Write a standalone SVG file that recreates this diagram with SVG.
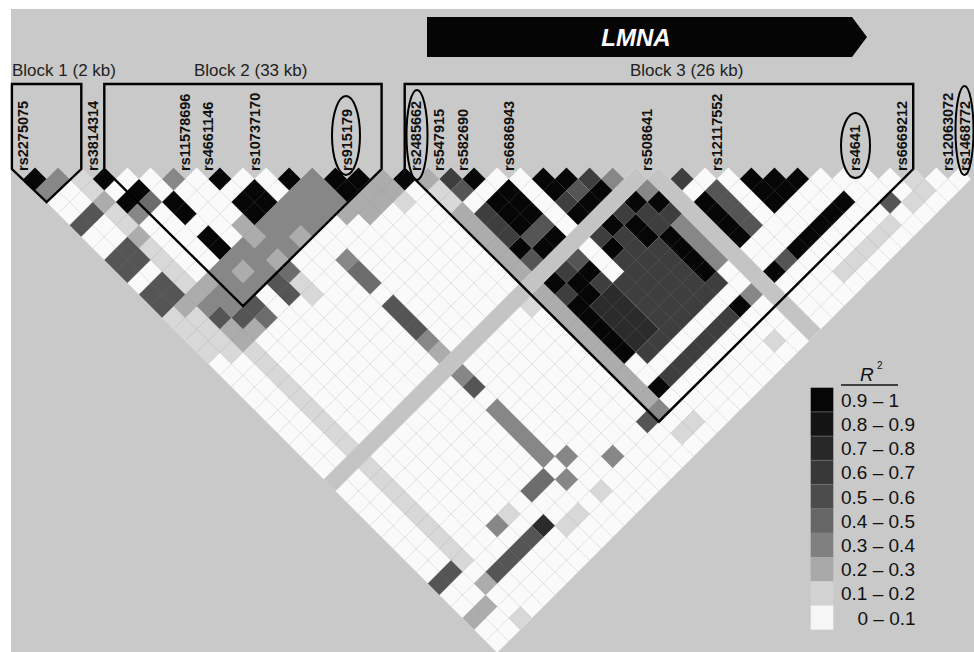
<svg xmlns="http://www.w3.org/2000/svg" width="974" height="652" viewBox="0 0 974 652">
<style>
.k9{fill:#060606}.k7{fill:#2b2b2b}.k6{fill:#3e3e3e}.k5{fill:#555}.k4{fill:#6c6c6c}.k3{fill:#878787}.k2{fill:#acacac}.k1{fill:#d8d8d8}.ks{fill:#c4c4c4}
.grid{fill:none;stroke:#8a8a8a;stroke-opacity:.28;stroke-width:.8;vector-effect:non-scaling-stroke}
.blk{fill:none;stroke:#000;stroke-width:2.4;stroke-linejoin:miter}
.snp{font-family:"Liberation Sans",Arial,sans-serif;font-size:14.5px;font-weight:bold;fill:#111}
.bt{font-family:"Liberation Sans",Arial,sans-serif;font-size:17px;fill:#222}
.lg{font-family:"Liberation Sans",Arial,sans-serif;font-size:19px;fill:#111}
.ell{fill:none;stroke:#000;stroke-width:2}
</style>
<rect width="974" height="652" fill="#fff"/>
<rect x="11" y="9" width="963" height="643" fill="#c9c9c9"/>
<g id="gene">
<polygon points="427,17 852,17 867,37 852,57 427,57" fill="#050505"/>
<text x="636" y="45.5" text-anchor="middle" font-family="Liberation Sans,Arial,sans-serif" font-size="24" font-weight="bold" font-style="italic" fill="#fff">LMNA</text>
</g>
<g id="heatmap" transform="matrix(11.555,-11.555,11.555,11.555,-11.255,167.445)">
<path fill="#fafafa" d="M1 2V43H42V42H41V41H40V40H39V39H38V38H37V37H36V36H35V35H34V34H33V33H32V32H31V31H30V30H29V29H28V28H27V27H26V26H25V25H24V24H23V23H22V22H21V21H20V20H19V19H18V18H17V17H16V16H15V15H14V14H13V13H12V12H11V11H10V10H9V9H8V8H7V7H6V6H5V5H4V4H3V3H2V2Z"/>
<path class="k1" d="M3 4h1v2h-1zM3 7h1v2h-1zM3 10h1v4h-1zM18 20h1v2h-1zM16 19h1v1h-1zM39 40h1v2h-1zM38 41h1v1h-1zM1 14h1v4h-1zM2 15h1v4h-1zM3 19h1v9h-1zM3 29h1v9h-1zM3 42h1v1h-1zM7 37h1v1h-1zM9 40h2v1h-2zM12 40h1v1h-1zM32 41h5v1h-5zM26 41h1v1h-1zM18 41h2v1h-2zM17 29h1v1h-1zM8 18h1v2h-1z"/>
<path class="k2" d="M3 6h1v1h-1zM13 17h4v1h-4zM14 18h3v1h-3zM8 13h1v2h-1zM4 14h1v1h-1zM6 15h1v1h-1zM8 16h1v1h-1zM10 16h1v1h-1zM2 14h2v1h-2zM3 17h1v2h-1zM3 9h1v1h-1zM3 39h1v1h-1zM1 40h2v1h-2zM11 27h1v1h-1zM4 18h1v1h-1zM18 19h1v1h-1zM18 22h1v6h-1zM18 29h1v10h-1z"/>
<path class="k3" d="M1 3h2v1h-2zM7 8h1v1h-1zM12 14h2v1h-2zM13 15h1v2h-1zM11 14h1v1h-1zM12 15h1v2h-1zM4 8h1v1h-1zM10 14h1v1h-1zM11 15h1v2h-1zM26 27h1v1h-1zM27 29h1v1h-1zM9 14h1v3h-1zM10 15h1v1h-1zM7 14h1v3h-1zM8 15h1v1h-1zM6 14h1v1h-1zM6 16h1v1h-1zM5 14h1v3h-1zM4 15h1v2h-1zM3 15h1v1h-1zM11 19h1v1h-1zM11 26h1v1h-1zM11 29h1v1h-1zM11 32h1v5h-1zM12 37h1v1h-1zM14 39h1v1h-1zM11 38h1v1h-1zM6 37h1v1h-1zM18 39h1v1h-1zM27 32h1v4h-1zM27 38h1v1h-1z"/>
<path class="k4" d="M5 8h1v1h-1zM5 18h1v1h-1zM8 17h1v1h-1zM11 20h1v2h-1zM9 37h2v1h-2z"/>
<path class="k5" d="M19 21h1v1h-1zM24 26h1v1h-1zM30 32h1v4h-1zM1 6h2v1h-2zM1 9h2v2h-2zM1 12h2v2h-2zM20 26h2v1h-2zM19 27h1v1h-1zM21 29h1v1h-1zM30 38h1v1h-1zM37 40h1v1h-1zM17 39h1v1h-1zM7 17h1v2h-1zM4 17h2v1h-2zM3 16h1v1h-1zM11 23h1v3h-1zM11 30h1v1h-1zM7 39h1v1h-1zM4 39h3v1h-3zM1 37h2v1h-2z"/>
<path class="k6" d="M19 20h1v1h-1zM25 26h1v1h-1zM23 26h1v1h-1zM29 30h1v1h-1zM19 23h1v3h-1zM26 30h1v1h-1zM27 31h1v1h-1zM25 29h1v1h-1zM23 29h1v1h-1zM24 30h1v1h-1zM26 31h1v1h-1zM24 31h1v1h-1zM23 31h1v1h-1zM20 29h1v1h-1zM19 30h1v1h-1zM21 31h1v1h-1zM22 32h4v5h-4zM20 36h2v1h-2zM26 36h1v1h-1zM20 38h6v1h-6z"/>
<path class="k7" d="M8 39h1v1h-1zM20 32h2v4h-2z"/>
<path class="k9" d="M1 2h1v1h-1zM4 5h1v1h-1zM9 10h1v1h-1zM12 13h1v1h-1zM14 15h1v1h-1zM15 16h1v1h-1zM14 16h1v1h-1zM17 18h1v1h-1zM20 21h1v1h-1zM23 24h1v1h-1zM24 25h1v1h-1zM23 25h1v1h-1zM25 27h1v1h-1zM24 27h1v1h-1zM23 27h1v1h-1zM32 33h1v1h-1zM33 34h1v1h-1zM34 35h1v1h-1zM32 34h1v1h-1zM33 35h1v1h-1zM32 35h1v1h-1zM5 7h1v1h-1zM9 12h2v2h-2zM4 7h1v1h-1zM6 9h1v2h-1zM6 12h1v2h-1zM20 23h2v3h-2zM21 27h1v1h-1zM19 26h1v1h-1zM20 27h1v1h-1zM26 29h1v1h-1zM24 29h1v1h-1zM27 30h1v1h-1zM25 30h1v1h-1zM23 30h1v1h-1zM25 31h1v1h-1zM29 32h1v4h-1zM31 38h5v1h-5zM29 38h1v1h-1zM26 38h1v1h-1zM19 38h1v1h-1zM26 32h1v4h-1zM19 31h1v5h-1zM19 29h1v1h-1zM20 30h2v1h-2zM20 31h1v1h-1z"/>
<path class="grid" d="M2 3V43M3 4V43M4 5V43M5 6V43M6 7V43M7 8V43M8 9V43M9 10V43M10 11V43M11 12V43M12 13V43M13 14V43M14 15V43M15 16V43M16 17V43M17 18V43M18 19V43M19 20V43M20 21V43M21 22V43M22 23V43M23 24V43M24 25V43M25 26V43M26 27V43M27 28V43M28 29V43M29 30V43M30 31V43M31 32V43M32 33V43M33 34V43M34 35V43M35 36V43M36 37V43M37 38V43M38 39V43M39 40V43M40 41V43M41 42V43M1 3H2M1 4H3M1 5H4M1 6H5M1 7H6M1 8H7M1 9H8M1 10H9M1 11H10M1 12H11M1 13H12M1 14H13M1 15H14M1 16H15M1 17H16M1 18H17M1 19H18M1 20H19M1 21H20M1 22H21M1 23H22M1 24H23M1 25H24M1 26H25M1 27H26M1 28H27M1 29H28M1 30H29M1 31H30M1 32H31M1 33H32M1 34H33M1 35H34M1 36H35M1 37H36M1 38H37M1 39H38M1 40H39M1 41H40M1 42H41"/>
<path class="ks" d="M1 28H28V29H1ZM28 29H29V43H28Z"/>
</g>
<g id="blocks">
<polygon class="blk" points="11.9,84 81.3,84 81.3,169 46.6,202.1 11.9,169"/>
<polygon class="blk" points="104.3,84 381.6,84 381.6,169 243,306.1 104.3,169"/>
<polygon class="blk" points="404.7,84 913.2,84 913.2,169 658.9,421.7 404.7,169"/>
<text class="bt" x="12" y="75.5">Block 1 (2 kb)</text>
<text class="bt" x="194" y="75.5">Block 2 (33 kb)</text>
<text class="bt" x="630" y="75.5">Block 3 (26 kb)</text>
</g>
<g id="snp-labels">
<text class="snp" transform="translate(28.4,171) rotate(-90)">rs2275075</text>
<text class="snp" transform="translate(97.7,171) rotate(-90)">rs3814314</text>
<text class="snp" transform="translate(190.2,171) rotate(-90)">rs11578696</text>
<text class="snp" transform="translate(213.3,171) rotate(-90)">rs4661146</text>
<text class="snp" transform="translate(259.5,171) rotate(-90)">rs10737170</text>
<text class="snp" transform="translate(352,171) rotate(-90)">rs915179</text>
<text class="snp" transform="translate(421.3,171) rotate(-90)">rs2485662</text>
<text class="snp" transform="translate(444.4,171) rotate(-90)">rs547915</text>
<text class="snp" transform="translate(467.5,171) rotate(-90)">rs582690</text>
<text class="snp" transform="translate(513.7,171) rotate(-90)">rs6686943</text>
<text class="snp" transform="translate(652.4,171) rotate(-90)">rs508641</text>
<text class="snp" transform="translate(721.7,171) rotate(-90)">rs12117552</text>
<text class="snp" transform="translate(860.4,171) rotate(-90)">rs4641</text>
<text class="snp" transform="translate(906.6,171) rotate(-90)">rs6669212</text>
<text class="snp" transform="translate(952.8,171) rotate(-90)">rs12063072</text>
<text class="snp" transform="translate(969.5,171) rotate(-90)">rs1468772</text>
<ellipse class="ell" cx="346" cy="135.5" rx="14" ry="39.5"/>
<ellipse class="ell" cx="417" cy="135" rx="10.5" ry="45"/>
<ellipse class="ell" cx="855.5" cy="145.5" rx="14.5" ry="32.5"/>
<ellipse class="ell" cx="964.5" cy="130.5" rx="9" ry="44.5"/>
</g>
<g id="legend">
<text class="lg" x="860" y="381" font-style="italic">R</text>
<text x="877" y="369" font-family="Liberation Sans,Arial,sans-serif" font-size="10" fill="#111">2</text>
<line x1="841" y1="385" x2="898" y2="385" stroke="#111" stroke-width="1.6"/>
<rect x="810.7" y="387.7" width="22.6" height="24.2" fill="#060606"/>
<rect x="810.7" y="411.9" width="22.6" height="24.2" fill="#141414"/>
<rect x="810.7" y="436.1" width="22.6" height="24.2" fill="#282828"/>
<rect x="810.7" y="460.3" width="22.6" height="24.2" fill="#383838"/>
<rect x="810.7" y="484.5" width="22.6" height="24.2" fill="#4c4c4c"/>
<rect x="810.7" y="508.7" width="22.6" height="24.2" fill="#666"/>
<rect x="810.7" y="532.9" width="22.6" height="24.2" fill="#808080"/>
<rect x="810.7" y="557.1" width="22.6" height="24.2" fill="#a9a9a9"/>
<rect x="810.7" y="581.3" width="22.6" height="24.2" fill="#d2d2d2"/>
<rect x="810.7" y="605.5" width="22.6" height="24.2" fill="#f6f6f6"/>
<path d="M810.7 411.9h22.6M810.7 436.1h22.6M810.7 460.3h22.6M810.7 484.5h22.6M810.7 508.7h22.6M810.7 532.9h22.6" stroke="#777" stroke-opacity=".6" stroke-width="1"/>
<text class="lg" x="841" y="406.7">0.9 – 1</text>
<text class="lg" x="841" y="430.9">0.8 – 0.9</text>
<text class="lg" x="841" y="455.1">0.7 – 0.8</text>
<text class="lg" x="841" y="479.3">0.6 – 0.7</text>
<text class="lg" x="841" y="503.5">0.5 – 0.6</text>
<text class="lg" x="841" y="527.7">0.4 – 0.5</text>
<text class="lg" x="841" y="551.9">0.3 – 0.4</text>
<text class="lg" x="841" y="576.1">0.2 – 0.3</text>
<text class="lg" x="841" y="600.3">0.1 – 0.2</text>
<text class="lg" x="857.5" y="624.5">0 – 0.1</text>
</g>
</svg>
